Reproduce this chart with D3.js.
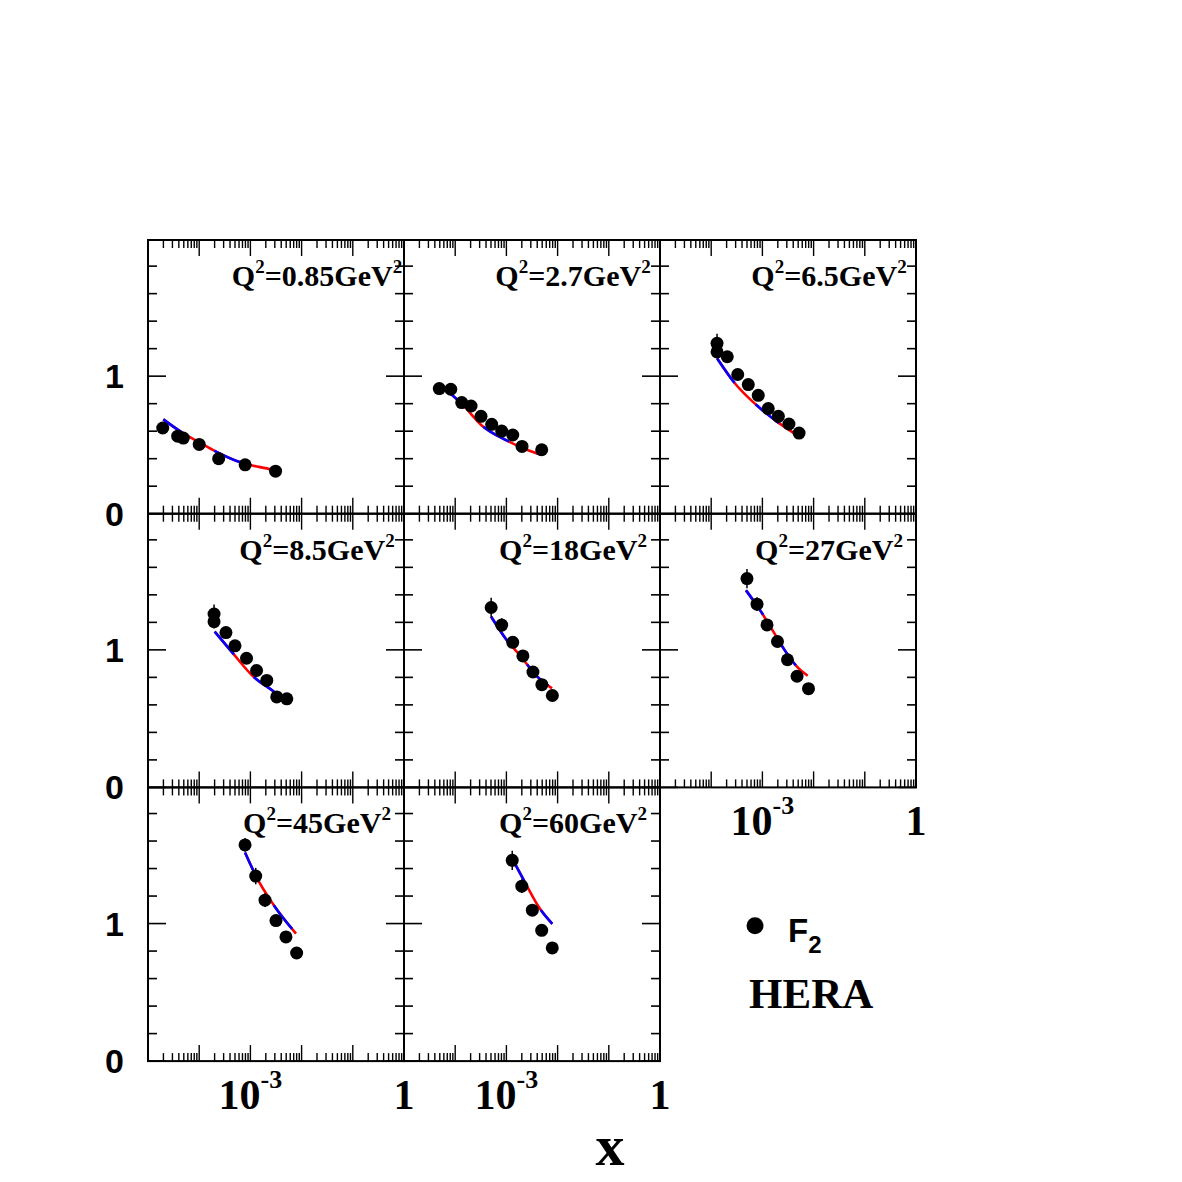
<!DOCTYPE html>
<html>
<head>
<meta charset="utf-8">
<script src="https://cdn.jsdelivr.net/npm/d3@7"></script>
<style>
body{margin:0;background:#fff;}
</style>
</head>
<body>
<div id="chart"></div>
<script>
// Q^2 of each panel (GeV^2)
var q2Labels = ["0.85", "2.7", "6.5", "8.5", "18", "27", "45", "60"];

// HERA F2 points, one list per panel
var pointX = [
	[1.94e-5, 3.8e-5, 4.9e-5, 1.0e-4, 2.4e-4, 7.9e-4, 3.1e-3],
	[4.89e-5, 8.2e-5, 1.34e-4, 2.04e-4, 3.19e-4, 5.16e-4, 8.1e-4, 1.33e-3, 2.02e-3, 4.89e-3],
	[1.3e-4, 1.3e-4, 2.06e-4, 3.3e-4, 5.3e-4, 8.3e-4, 1.30e-3, 2.05e-3, 3.3e-3, 5.2e-3],
	[1.95e-4, 1.95e-4, 3.33e-4, 5.0e-4, 8.4e-4, 1.32e-3, 2.09e-3, 3.27e-3, 5.14e-3],
	[5.04e-4, 8.1e-4, 1.33e-3, 2.1e-3, 3.3e-3, 4.93e-3, 7.9e-3],
	[5.0e-4, 7.85e-4, 1.23e-3, 1.97e-3, 3.09e-3, 4.75e-3, 7.95e-3],
	[7.86e-4, 1.27e-3, 1.93e-3, 3.16e-3, 4.95e-3, 8.0e-3],
	[1.30e-3, 2.0e-3, 3.21e-3, 4.89e-3, 7.87e-3]
];
var pointF2 = [
	[0.623, 0.564, 0.55, 0.504, 0.40, 0.355, 0.309],
	[0.910, 0.905, 0.808, 0.783, 0.708, 0.650, 0.601, 0.572, 0.489, 0.465],
	[1.239, 1.177, 1.141, 1.012, 0.939, 0.861, 0.764, 0.708, 0.652, 0.586],
	[1.26, 1.205, 1.126, 1.029, 0.939, 0.850, 0.778, 0.658, 0.644],
	[1.308, 1.18, 1.055, 0.956, 0.839, 0.747, 0.668],
	[1.518, 1.332, 1.181, 1.061, 0.928, 0.808, 0.718],
	[1.572, 1.345, 1.170, 1.022, 0.903, 0.786],
	[1.460, 1.272, 1.097, 0.951, 0.823]
];
var pointErr = [
	[0.03, 0.02, 0.02, 0.02, 0.02, 0.02, 0.02],
	[0.03, 0.02, 0.02, 0.02, 0.02, 0.02, 0.02, 0.02, 0.02, 0.02],
	[0.07, 0.05, 0.04, 0.03, 0.03, 0.03, 0.03, 0.02, 0.02, 0.02],
	[0.07, 0.05, 0.04, 0.03, 0.03, 0.03, 0.03, 0.02, 0.02],
	[0.07, 0.05, 0.04, 0.03, 0.03, 0.03, 0.02],
	[0.07, 0.05, 0.04, 0.03, 0.03, 0.03, 0.02],
	[0.05, 0.06, 0.05, 0.04, 0.03, 0.03],
	[0.07, 0.05, 0.04, 0.03, 0.03]
];

// model curve, one list per panel
var curveX = [
	[1.99e-5, 5.7e-5, 1.0e-4, 2.04e-4, 6.3e-4, 2.6e-3, 3.1e-3],
	[5.04e-5, 1.34e-4, 3.3e-4, 1.01e-3, 2.49e-3, 4.89e-3],
	[1.31e-4, 2.92e-4, 7.74e-4, 2.05e-3, 5.2e-3],
	[2.0e-4, 4.53e-4, 1.13e-3, 2.81e-3, 5.33e-3],
	[5.04e-4, 1.01e-3, 1.91e-3, 3.96e-3, 7.78e-3],
	[4.78e-4, 8.98e-4, 1.56e-3, 2.7e-3, 4.68e-3, 7.67e-3],
	[7.86e-4, 1.33e-3, 2.8e-3, 7.78e-3],
	[1.27e-3, 2.42e-3, 4.53e-3, 7.87e-3]
];
var curveF2 = [
	[0.686, 0.569, 0.52, 0.455, 0.374, 0.321, 0.314],
	[0.934, 0.80, 0.642, 0.533, 0.465, 0.428],
	[1.129, 0.947, 0.788, 0.662, 0.562],
	[1.133, 0.976, 0.807, 0.699, 0.615],
	[1.241, 1.072, 0.952, 0.807, 0.72],
	[1.433, 1.289, 1.145, 1.0, 0.88, 0.812],
	[1.516, 1.334, 1.139, 0.927],
	[1.48, 1.285, 1.107, 0.998]
];

// axis labels
var xTickValues = [1e-3, 1];
var xTickBase = ["10", "1"];
var xTickExp = ["-3", ""];
var yTickValues = [0, 1];

var W = 1182, H = 1182;
var left0 = 148, top0 = 240, pw = 256, ph = 273.7;
var serif = "'Liberation Serif','Times New Roman',serif";
var sans = "'Liberation Sans',Arial,Helvetica,sans-serif";

var svg = d3.select("#chart").append("svg")
	.attr("width", W)
	.attr("height", H);

var x = d3.scaleLog().domain([1e-5, 1]).range([0, pw]);
var y = d3.scaleLinear().domain([0, 1.99]).range([ph, 0]);

var line = d3.line()
	.x(function(d){ return x(d[0]); })
	.y(function(d){ return y(d[1]); })
	.curve(d3.curveMonotoneX);

function isDecade(t){
	var l = Math.log10(t);
	return Math.abs(l - Math.round(l)) < 1e-6;
}

for(var i = 0; i < q2Labels.length; i++){
	var row = Math.floor(i / 3), col = i % 3;
	var g = svg.append("g")
		.attr("transform", "translate(" + (left0 + col * pw) + "," + (top0 + row * ph) + ")");

	//x ticks, top and bottom, inward
	x.ticks().forEach(function(t){
		var len = isDecade(t) ? 16 : 8;
		g.append("line").attr("x1", x(t)).attr("x2", x(t)).attr("y1", ph).attr("y2", ph - len)
			.attr("stroke", "#000").attr("stroke-width", 1.4);
		g.append("line").attr("x1", x(t)).attr("x2", x(t)).attr("y1", 0).attr("y2", len)
			.attr("stroke", "#000").attr("stroke-width", 1.4);
	});

	//y ticks, left and right, inward
	d3.range(0, 10).forEach(function(k){
		var v = k * 0.2;
		var len = (k % 5 === 0) ? 18 : 9;
		g.append("line").attr("x1", 0).attr("x2", len).attr("y1", y(v)).attr("y2", y(v))
			.attr("stroke", "#000").attr("stroke-width", 1.6);
		g.append("line").attr("x1", pw).attr("x2", pw - len).attr("y1", y(v)).attr("y2", y(v))
			.attr("stroke", "#000").attr("stroke-width", 1.6);
	});

	//frame
	g.append("rect").attr("width", pw).attr("height", ph)
		.attr("fill", "none").attr("stroke", "#000").attr("stroke-width", 2);

	//model curve: red with blue dashes over it
	var cdata = curveX[i].map(function(v, j){ return [v, curveF2[i][j]]; });
	g.append("path").datum(cdata).attr("d", line)
		.attr("fill", "none").attr("stroke", "#ff0000").attr("stroke-width", 2.6);
	g.append("path").datum(cdata).attr("d", line)
		.attr("fill", "none").attr("stroke", "#0000ff").attr("stroke-width", 2.6)
		.attr("stroke-dasharray", "30,30");

	//data points
	var pdata = pointX[i].map(function(v, j){ return [v, pointF2[i][j], pointErr[i][j]]; });
	g.selectAll(".err").data(pdata).enter().append("line")
		.attr("x1", function(d){ return x(d[0]); })
		.attr("x2", function(d){ return x(d[0]); })
		.attr("y1", function(d){ return y(d[1] - d[2]); })
		.attr("y2", function(d){ return y(d[1] + d[2]); })
		.attr("stroke", "#000").attr("stroke-width", 1.5);
	g.selectAll(".pt").data(pdata).enter().append("circle")
		.attr("cx", function(d){ return x(d[0]); })
		.attr("cy", function(d){ return y(d[1]); })
		.attr("r", 6.5)
		.attr("fill", "#000");

	//Q2 label
	var lab = g.append("text")
		.attr("x", 169).attr("y", 46)
		.attr("text-anchor", "middle")
		.style("font-family", serif).style("font-weight", "bold").style("font-size", "30px");
	lab.append("tspan").text("Q");
	lab.append("tspan").attr("dy", -13).style("font-size", "19px").text("2");
	lab.append("tspan").attr("dy", 13).text("=" + q2Labels[i] + "GeV");
	lab.append("tspan").attr("dy", -13).style("font-size", "19px").text("2");

	//x labels where no panel is below
	if(row === 2 || i + 3 >= q2Labels.length){
		xTickValues.forEach(function(t, k){
			var tx = g.append("text")
				.attr("x", x(t)).attr("y", ph + 48)
				.attr("text-anchor", "middle")
				.style("font-family", serif).style("font-weight", "bold").style("font-size", "42px");
			tx.append("tspan").text(xTickBase[k]);
			if(xTickExp[k] !== ""){
				tx.append("tspan").attr("dy", -21).style("font-size", "26px").text(xTickExp[k]);
			}
		});
	}
}

//y labels for each row
for(var r = 0; r < 3; r++){
	yTickValues.forEach(function(v){
		svg.append("text")
			.attr("x", 124)
			.attr("y", top0 + r * ph + y(v) + 12)
			.attr("text-anchor", "end")
			.style("font-family", sans).style("font-weight", "bold").style("font-size", "34px")
			.text(v);
	});
}

//x axis title
svg.append("text")
	.attr("x", 610).attr("y", 1165)
	.attr("text-anchor", "middle")
	.style("font-family", serif).style("font-weight", "bold").style("font-size", "58px")
	.text("x");

//legend
svg.append("circle").attr("cx", 755).attr("cy", 925.7).attr("r", 8.5).attr("fill", "#000");
var f2 = svg.append("text")
	.attr("x", 788).attr("y", 942)
	.style("font-family", sans).style("font-weight", "bold").style("font-size", "33px");
f2.append("tspan").text("F");
f2.append("tspan").attr("dy", 11).style("font-size", "24px").text("2");

svg.append("text")
	.attr("x", 749).attr("y", 1008)
	.style("font-family", serif).style("font-weight", "bold").style("font-size", "43px")
	.text("HERA");
</script>
</body>
</html>
